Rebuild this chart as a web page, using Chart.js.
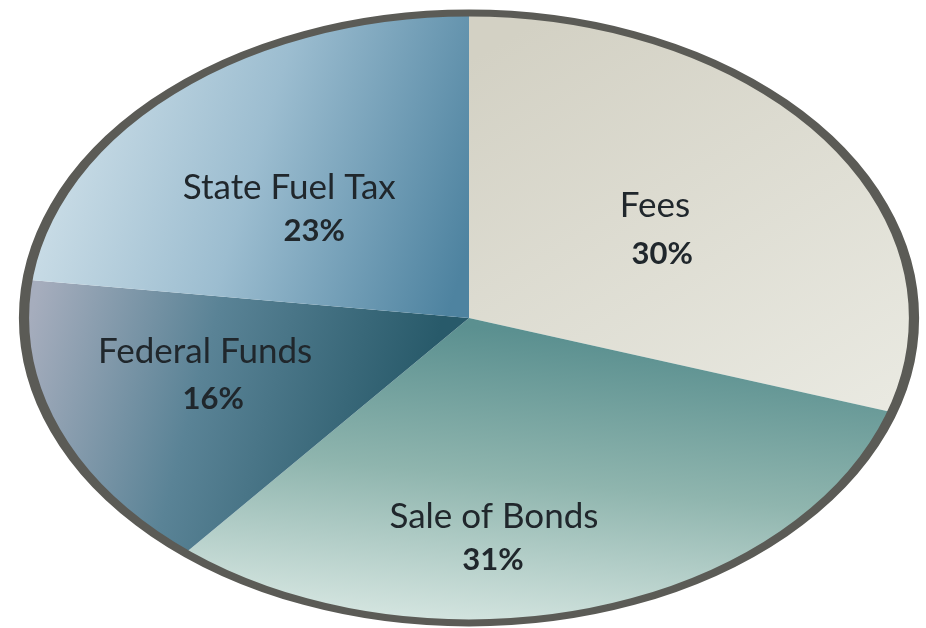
<!DOCTYPE html>
<html lang="en">
<head>
<meta charset="UTF-8">
<title>Revenue Sources</title>
<script src="https://cdn.jsdelivr.net/npm/chart.js"></script>
<style>
    html, body { margin: 0; padding: 0; background: #ffffff; }
    #wrap { width: 926px; height: 628px; }
</style>
</head>
<body>
<div id="wrap"><canvas id="grafico" width="926" height="628"></canvas></div>

<script>
    // dados
    const fontes = ['Fees', 'Sale of Bonds', 'Federal Funds', 'State Fuel Tax']
    const percentuais = [30, 31, 16, 23]

    // posição dos rótulos, em fração dos raios da elipse (nome x,y / percentual x,y)
    const posRotulos = [
        [0.418, -0.331, 0.434, -0.177],
        [0.056, 0.689, 0.054, 0.826],
        [-0.593, 0.148, -0.575, 0.298],
        [-0.404, -0.390, -0.348, -0.252]
    ]

    const raioX = 445 // largura da elipse / 2
    let escalaX = 1

    // converte um ponto da tela para o espaço do círculo (antes do esticamento)
    function pt(chart, X, Y) {
        const area = chart.chartArea
        const cx = (area.left + area.right) / 2
        return [cx + (X - cx) / escalaX, Y]
    }

    function gradiente(chart, x0, y0, x1, y1, paradas) {
        const a = pt(chart, x0, y0)
        const b = pt(chart, x1, y1)
        const g = chart.ctx.createLinearGradient(a[0], a[1], b[0], b[1])
        paradas.forEach(function (p) { g.addColorStop(p[0], p[1]) })
        return g
    }

    function corFatia(context) {
        const chart = context.chart
        if (!chart.chartArea) return '#cccccc'
        const i = context.dataIndex
        if (i == 0) return gradiente(chart, 470, 60, 890, 400, [[0, '#d3d1c4'], [1, '#e9e9e1']])
        if (i == 1) return gradiente(chart, 500, 330, 440, 620, [[0, '#5b9090'], [0.5, '#8fb5ae'], [1, '#d3e4df']])
        if (i == 2) return gradiente(chart, 40, 280, 440, 330, [[0, '#a6adbd'], [0.45, '#5a8396'], [1, '#285a6a']])
        return gradiente(chart, 50, 190, 468, 250, [[0, '#c9dce6'], [0.45, '#9cbdd0'], [1, '#4e83a0']])
    }

    const elipse = {
        id: 'elipse',
        beforeDatasetsDraw(chart) {
            const arco = chart.getDatasetMeta(0).data[0]
            const ctx = chart.ctx
            ctx.save()
            ctx.translate(arco.x, arco.y)
            ctx.scale(escalaX, 1)
            ctx.translate(-arco.x, -arco.y)
        },
        afterDatasetsDraw(chart) {
            const ctx = chart.ctx
            const arco = chart.getDatasetMeta(0).data[0]

            // borda cinza escura (ainda esticada, fica mais grossa nos lados)
            ctx.beginPath()
            ctx.arc(arco.x, arco.y, arco.outerRadius, 0, Math.PI * 2)
            ctx.lineWidth = 7
            ctx.strokeStyle = '#5b5b56'
            ctx.stroke()
            ctx.restore()

            const rx = arco.outerRadius * escalaX
            const ry = arco.outerRadius

            // rótulos
            ctx.save()
            ctx.fillStyle = '#20272c'
            ctx.textAlign = 'center'
            ctx.textBaseline = 'alphabetic'
            for (let i = 0; i < fontes.length; i++) {
                const p = posRotulos[i]
                ctx.font = '35px Lato'
                ctx.fillText(fontes[i], arco.x + p[0] * rx, arco.y + p[1] * ry)
                ctx.font = 'bold 31px Lato'
                ctx.fillText(percentuais[i] + '%', arco.x + p[2] * rx, arco.y + p[3] * ry)
            }
            ctx.restore()
        }
    }

    const grafico = document.getElementById('grafico')

    // raio vertical = (altura útil) / 2 = 305
    escalaX = raioX / 305

    new Chart(grafico, {
        type: 'pie',
        data: {
            labels: fontes,
            datasets: [
                {
                    label: 'Revenue',
                    data: percentuais,
                    backgroundColor: corFatia,
                    borderWidth: 0
                }
            ]
        },
        options: {
            responsive: false,
            animation: false,
            events: [],
            layout: {
                padding: { top: 13, bottom: 5, left: 12, right: 0 }
            },
            plugins: {
                legend: { display: false },
                tooltip: { enabled: false }
            }
        },
        plugins: [elipse]
    })
</script>
</body>
</html>
